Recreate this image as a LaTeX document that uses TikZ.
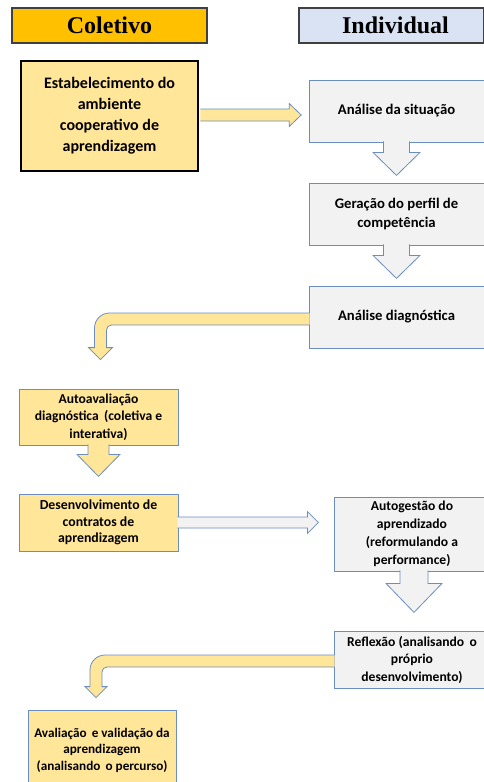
\documentclass[tikz,border=0pt]{standalone}
\usepackage{fontspec}
\setmainfont{Carlito}
\newfontfamily\hdrfont{Liberation Serif}
\usetikzlibrary{calc}
\definecolor{gold}{HTML}{FFC000}
\definecolor{lblue}{HTML}{DAE3F3}
\definecolor{lyel}{HTML}{FFE699}
\definecolor{lgray}{HTML}{F2F2F2}
\definecolor{bblue}{HTML}{6C8EBF}
\definecolor{dgray}{HTML}{404040}
% #1 style, #2 start coordinate name, #3 shaft half, #4 head half, #5 shaft length, #6 head length
\newcommand\blkdown[6]{%
  \draw[#1] (#2) ++(-#3,0) -- ++(0,#5) -- ++(#3-#4,0) -- ++(#4,#6) -- ++(#4,-#6) -- ++(#3-#4,0) -- ++(0,-#5);}
\newcommand\blkright[6]{%
  \draw[#1] (#2) ++(0,-#3) -- ++(#5,0) -- ++(0,#3-#4) -- ++(#6,#4) -- ++(-#6,#4) -- ++(0,#3-#4) -- ++(-#5,0);}
% bent arrow: #1 style, #2 start (shaft centre on box edge), #3 tip, #4 shaft half, #5 head half, #6 head length
\newcommand\blkbent[6]{%
  \draw[#1] ($(#2)+(0,-#4)$) -- ($(#2 -| #3)+(-#4+15,-#4)$) arc[start angle=270,end angle=180,radius=15]
    -- ($(#3)+(-#4,-#6)$) -- ($(#3)+(-#5,-#6)$) -- (#3) -- ($(#3)+(#5,-#6)$) -- ($(#3)+(#4,-#6)$)
    -- ($(#2 -| #3)+(#4,#4+5)$) arc[start angle=180,end angle=270,radius=5] -- ($(#2)+(0,#4)$);}
\begin{document}
\begin{tikzpicture}[x=1pt,y=-1pt,
  hdr/.style={draw=dgray, line width=1.2pt, font=\hdrfont\bfseries\fontsize{24}{28}\selectfont, inner sep=0pt},
  box/.style={draw=bblue, line width=0.8pt, font=\bfseries\fontsize{14.7}{17.8}\selectfont, align=center, inner sep=0pt},
  ybox/.style={box, fill=lyel},
  gbox/.style={box, fill=lgray},
  yarr/.style={draw=bblue, line width=0.8pt, fill=lyel, line join=miter},
  garr/.style={draw=bblue, line width=0.8pt, fill=lgray, line join=miter},
]
\useasboundingbox (0,0) rectangle (484,782);
\clip (0,0) rectangle (484,782);
\fill[white] (0,0) rectangle (484,782);

\node[hdr, fill=gold, minimum width=195, minimum height=35] (hc) at (109.5,25.5) {Coletivo};
\node[hdr, fill=lblue, minimum width=185, minimum height=35] (hi) at (391.5,25.5) {\hspace*{8pt}Individual};

\node[ybox, draw=black, line width=2.4pt, minimum width=177, minimum height=110,
      font=\bfseries\fontsize{16}{21}\selectfont] (b1) at (109.5,116)
  {Estabelecimento do\\ambiente\\cooperativo de\\aprendizagem};
\node[gbox, minimum width=175, minimum height=62] (sit) at (396.5,111) {Análise da situação};
\node[gbox, minimum width=175, minimum height=62, font=\bfseries\fontsize{14.7}{19}\selectfont] (ger) at (396.5,214)
  {Geração do perfil de\\competência};
\node[gbox, minimum width=175, minimum height=62] (diag) at (396.5,317) {Análise diagnóstica};
\node[ybox, minimum width=159, minimum height=56, font=\bfseries\fontsize{13.6}{17.5}\selectfont] (auto) at (98.5,417)
  {Autoavaliação\\diagnóstica \,(coletiva e\\interativa)};
\node[ybox, minimum width=159, minimum height=57, font=\bfseries\fontsize{13.8}{16.8}\selectfont] (dev) at (98.5,522.5)
  {Desenvolvimento de\\contratos de\\aprendizagem};
\node[gbox, minimum width=156, minimum height=74, font=\bfseries\fontsize{13.6}{18}\selectfont] (autog) at (412,534)
  {Autogestão do\\aprendizado\\(reformulando a\\performance)};
\node[gbox, minimum width=156, minimum height=57, font=\bfseries\fontsize{13.6}{17.5}\selectfont] (refl) at (412,659.5)
  {Reflexão (analisando \,o\\próprio\\desenvolvimento)};
\node[ybox, minimum width=148, minimum height=80, font=\bfseries\fontsize{13.2}{16.6}\selectfont] (aval) at (102,750)
  {Avaliação \,e validação da\\aprendizagem\\(analisando \,o percurso)};

% arrow anchors
\coordinate (a1s) at ($(b1.east)+(1.2,-1)$);
\coordinate (d1s) at ($(sit.south)+(0,-1)$);
\coordinate (d2s) at ($(ger.south)+(0,-1)$);
\coordinate (b1a) at ($(diag.west)+(1,2)$);
\coordinate (b1t) at ($(auto.north)+(2,-29)$);
\coordinate (d3s) at ($(auto.south)+(0,-1)$);
\coordinate (a2s) at ($(dev.east)+(-1,0)$);
\coordinate (d4s) at ($(autog.south)+(2,-1)$);
\coordinate (b2a) at ($(refl.west)+(1,1.5)$);
\coordinate (b2t) at ($(aval.north)+(-6,-12)$);

\blkright{yarr}{a1s}{6}{11.5}{88.8}{12}
\blkdown{garr}{d1s}{13}{23.5}{11}{23}
\blkdown{garr}{d2s}{13}{23.5}{11}{23}
\blkbent{yarr}{b1a}{b1t}{6}{12}{12}
\blkdown{yarr}{d3s}{10.5}{21.5}{10}{22}
\blkright{garr}{a2s}{5.5}{11}{130}{11}
\blkdown{garr}{d4s}{14}{28}{13}{29}
\blkbent{yarr}{b2a}{b2t}{6}{11}{11}
\end{tikzpicture}
\end{document}
